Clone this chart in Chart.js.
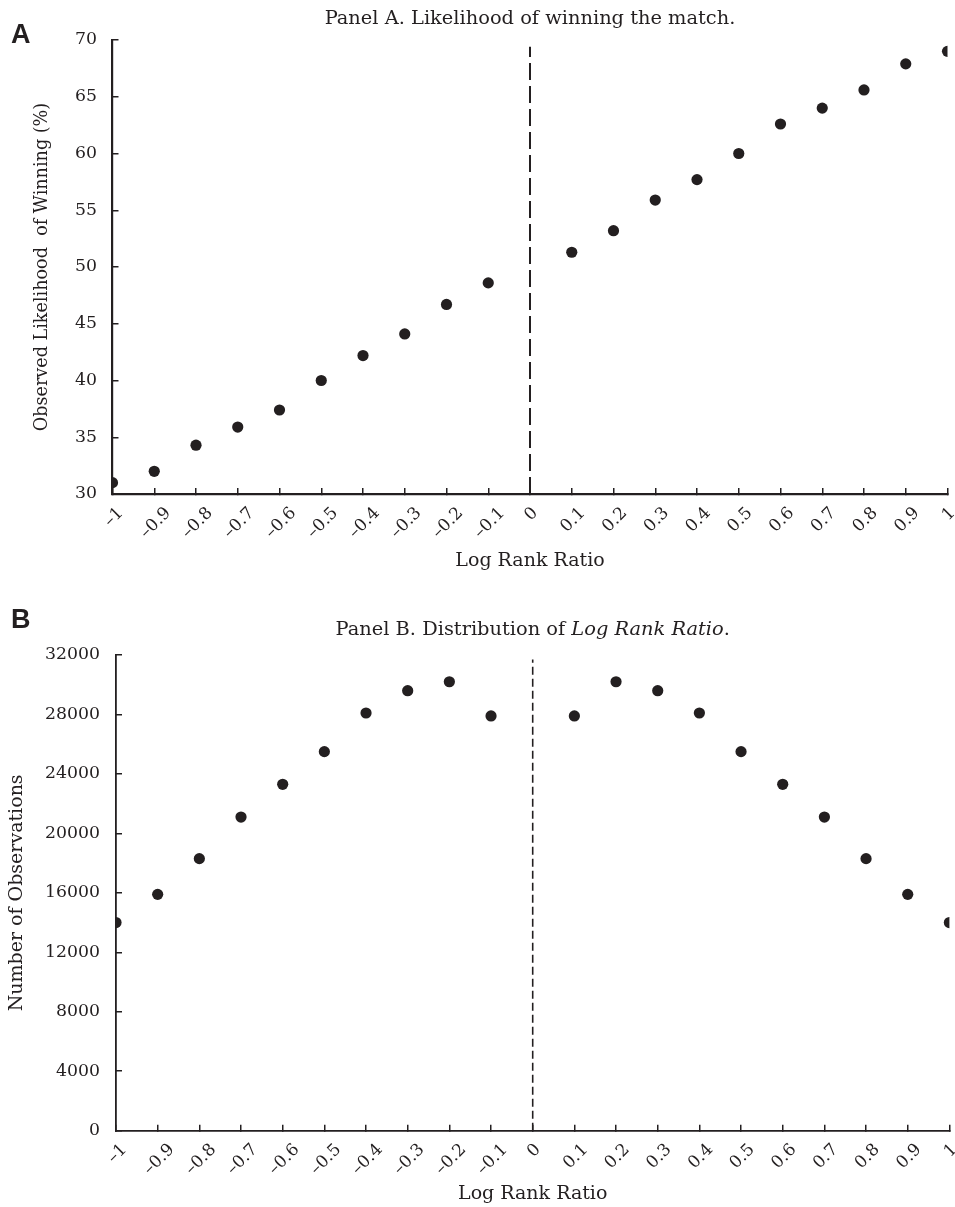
<!DOCTYPE html>
<html><head><meta charset="utf-8">
<script src="https://cdn.jsdelivr.net/npm/chart.js@4.4.0/dist/chart.umd.min.js"></script>
<style>
html,body{margin:0;padding:0;background:#fff;}
#wrap{position:relative;width:955px;height:1207px;overflow:hidden;}
canvas{position:absolute;left:0;}
#cA{top:0}
#cB{top:600px}
</style></head><body>
<div id="wrap">
<canvas id="cA" width="955" height="600"></canvas>
<canvas id="cB" width="955" height="607"></canvas>
</div>
<script>
// ---- data ----
const logRankRatio = [-1, -0.9, -0.8, -0.7, -0.6, -0.5, -0.4, -0.3, -0.2, -0.1,
                      0.1, 0.2, 0.3, 0.4, 0.5, 0.6, 0.7, 0.8, 0.9, 1];
const winLikelihood = [31.0, 32.0, 34.3, 35.9, 37.4, 40.0, 42.2, 44.1, 46.7, 48.6,
                       51.3, 53.2, 55.9, 57.7, 60.0, 62.6, 64.0, 65.6, 67.9, 69.0];
const observations = [14000, 15900, 18300, 21100, 23300, 25500, 28100, 29600, 30200, 27900,
                      27900, 30200, 29600, 28100, 25500, 23300, 21100, 18300, 15900, 14000];
const zeroLineX = 0;
const zeroLineA = [30, 69.4];
const zeroLineB = [0, 31700];
const titleA = [{text: 'Panel A. Likelihood of winning the match.'}];
const titleB = [{text: 'Panel B. Distribution of '}, {text: 'Log Rank Ratio', italic: true}, {text: '.'}];
const xAxisTitle = 'Log Rank Ratio';
const yAxisTitleA = 'Observed Likelihood  of Winning (%)';
const yAxisTitleB = 'Number of Observations';

const INK = '#231f20';
const SERIF = "'DejaVu Serif', serif";
Chart.defaults.font.family = SERIF;
Chart.defaults.color = INK;

function fmtTick(v) {
  const r = Math.round(v * 10) / 10;
  if (r === 0) return '0';
  const s = String(Math.abs(r));
  return r < 0 ? '\u2013' + s : s;
}

// panel letter + title (with italic segment) + centred rotated x tick labels
const panelDecor = {
  id: 'panelDecor',
  afterDraw(chart, args, opts) {
    const {ctx, chartArea} = chart;
    ctx.save();
    ctx.fillStyle = INK;
    ctx.textBaseline = 'alphabetic';
    ctx.textAlign = 'left';
    ctx.font = "bold 27px 'Liberation Sans', Arial, sans-serif";
    ctx.fillText(opts.letter, opts.letterX, opts.letterY);
    let total = 0;
    const segs = opts.segments.map(s => {
      ctx.font = (s.italic ? 'italic ' : '') + opts.size + 'px ' + SERIF;
      const w = ctx.measureText(s.text).width;
      total += w;
      return {text: s.text, italic: s.italic, w};
    });
    let x = (chartArea.left + chartArea.right) / 2 - total / 2;
    for (const s of segs) {
      ctx.font = (s.italic ? 'italic ' : '') + opts.size + 'px ' + SERIF;
      ctx.fillText(s.text, x, opts.baseline);
      x += s.w;
    }
    // x tick labels, rotated 45 degrees about their centre, hanging below the axis
    const xs = chart.scales.x;
    const fs = opts.tickSize;
    ctx.font = fs + 'px ' + SERIF;
    ctx.textAlign = 'center';
    ctx.textBaseline = 'middle';
    const h = fs * 0.73;
    for (const t of xs.ticks) {
      const lab = fmtTick(t.value);
      const w = ctx.measureText(lab).width;
      const px = xs.getPixelForValue(t.value);
      const cy = xs.top + opts.tickTop + (w + h) / (2 * Math.SQRT2);
      ctx.save();
      ctx.translate(px + 1.5, cy);
      ctx.rotate(-Math.PI / 4);
      ctx.fillText(lab, 0, 0);
      ctx.restore();
    }
    ctx.restore();
  }
};

function build(canvasId, cfg) {
  return new Chart(document.getElementById(canvasId), {
    type: 'scatter',
    data: {
      datasets: [
        {
          data: logRankRatio.map((x, i) => ({x, y: cfg.values[i]})),
          pointRadius: 5.6, pointHoverRadius: 5.6,
          pointBackgroundColor: INK, pointBorderWidth: 0, order: 0
        },
        {
          type: 'line',
          data: [{x: zeroLineX, y: cfg.zero[0]}, {x: zeroLineX, y: cfg.zero[1]}],
          borderColor: INK, borderWidth: cfg.dashWidth, borderDash: cfg.dash,
          pointRadius: 0, fill: false, order: 1
        }
      ]
    },
    options: {
      responsive: false, animation: false, devicePixelRatio: 1, events: [],
      layout: {padding: cfg.pad},
      plugins: {
        legend: {display: false}, tooltip: {enabled: false}, title: {display: false},
        panelDecor: {letter: cfg.letter, letterX: 11, letterY: cfg.letterY,
                     segments: cfg.title, size: 19.4, baseline: cfg.titleBaseline,
                     tickSize: 17, tickTop: 12}
      },
      scales: {
        x: {
          type: 'linear', min: -1, max: 1,
          ticks: {stepSize: 0.1, autoSkip: false, display: false, callback: fmtTick},
          grid: {display: true, drawOnChartArea: false, drawTicks: true, tickLength: -6,
                 color: INK, lineWidth: 1.5},
          border: {display: true, color: INK, width: cfg.axisWidth},
          title: {display: true, text: xAxisTitle, font: {size: 19}, color: INK,
                  padding: {top: 0, bottom: cfg.xTitlePad}},
          afterFit: s => { s.height = cfg.xHeight; s.paddingLeft = 0; s.paddingRight = 0; }
        },
        y: {
          min: cfg.yMin, max: cfg.yMax,
          ticks: {stepSize: cfg.yStep, padding: cfg.yTickPad, font: {size: 17.3}, color: INK,
                  callback: v => String(v)},
          grid: {display: true, drawOnChartArea: false, drawTicks: true, tickLength: -6,
                 color: INK, lineWidth: 1.5},
          border: {display: true, color: INK, width: cfg.axisWidth},
          title: {display: true, text: cfg.yTitle, font: {size: cfg.yTitleSize}, color: INK,
                  padding: {top: cfg.yTitlePad, bottom: 0}},
          afterFit: s => { s.width = cfg.yWidth; s.paddingTop = 0; s.paddingBottom = 0; }
        }
      }
    },
    plugins: [panelDecor]
  });
}

build('cA', {
  values: winLikelihood, zero: zeroLineA, dash: [17, 6], dashWidth: 2,
  pad: {left: 0, right: 7.5, top: 40, bottom: 16},
  letter: 'A', letterY: 43, title: titleA, titleBaseline: 24,
  axisWidth: 2.2, xTitlePad: 11.5, xHeight: 90,
  yMin: 30, yMax: 70, yStep: 5, yTickPad: 21.5, yTitle: yAxisTitleA, yTitleSize: 17.6,
  yTitlePad: 31.5, yWidth: 112.5
});

build('cB', {
  values: observations, zero: zeroLineB, dash: [8, 4], dashWidth: 1.6,
  pad: {left: 0, right: 3.3, top: 55, bottom: 0},
  letter: 'B', letterY: 28, title: titleB, titleBaseline: 35,
  axisWidth: 1.8, xTitlePad: 1.5, xHeight: 76.3,
  yMin: 0, yMax: 32000, yStep: 4000, yTickPad: 22, yTitle: yAxisTitleB, yTitleSize: 19,
  yTitlePad: 5.6, yWidth: 116
});
</script>
</body></html>
